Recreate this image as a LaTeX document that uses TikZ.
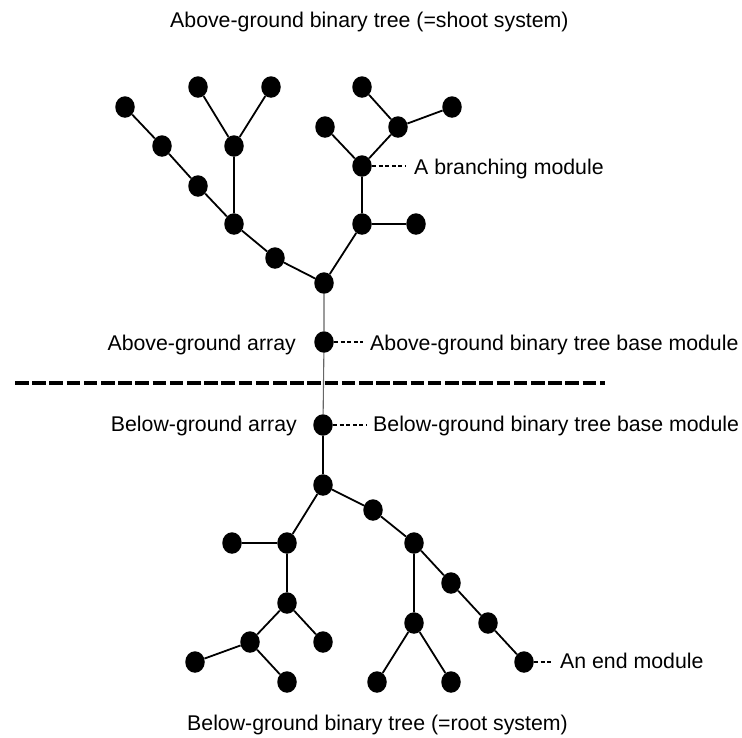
\documentclass[tikz,border=0pt]{standalone}
\usepackage{fontspec}
\setmainfont{Liberation Sans}
\usetikzlibrary{shapes.geometric}
\tikzset{
  mod/.style={ellipse,fill=black,minimum width=19.5pt,minimum height=21.5pt,inner sep=0},
  lab/.style={font=\fontsize{21.3}{25}\selectfont,inner sep=0},
  link/.style={line width=1.8pt},
  stem/.style={line width=1.1pt,black!60},
  lead/.style={line width=2.4pt,dash pattern=on 4pt off 2.6pt},
  ground/.style={line width=3.5pt,dash pattern=on 13.5pt off 3.7pt},
}

\begin{document}
\begin{tikzpicture}[x=1pt,y=-1pt]
    \useasboundingbox (0,0) rectangle (742,737);
    % above-ground tree
    \node(a1)[mod] at (125,107) {};
    \node(a2)[mod] at (162,146) {};
    \node(a3)[mod] at (198,186) {};
    \node(a4)[mod] at (234,224) {};
    \node(a5)[mod] at (198,87) {};
    \node(a6)[mod] at (271,87) {};
    \node(a7)[mod] at (234,146) {};
    \node(a8)[mod] at (275,258) {};
    \node(a9)[mod] at (324,283) {};
    \node(a10)[mod] at (324,342) {};
    \node(a11)[mod] at (362,224) {};
    \node(a12)[mod] at (416,224) {};
    \node(a13)[mod] at (362,166) {};
    \node(a14)[mod] at (325,127) {};
    \node(a15)[mod] at (398,127) {};
    \node(a16)[mod] at (362,87) {};
    \node(a17)[mod] at (452,107) {};

    % below-ground tree
    \node(b1)[mod] at (323,425) {};
    \node(b2)[mod] at (323,485) {};
    \node(b3)[mod] at (287,543) {};
    \node(b4)[mod] at (232,543) {};
    \node(b5)[mod] at (287,603) {};
    \node(b6)[mod] at (250,642) {};
    \node(b7)[mod] at (195,662) {};
    \node(b8)[mod] at (287,682) {};
    \node(b9)[mod] at (323,642) {};
    \node(b10)[mod] at (373,510) {};
    \node(b11)[mod] at (414,543) {};
    \node(b12)[mod] at (414,623) {};
    \node(b13)[mod] at (377,682) {};
    \node(b14)[mod] at (451,682) {};
    \node(b15)[mod] at (451,583) {};
    \node(b16)[mod] at (488,623) {};
    \node(b17)[mod] at (524,662) {};

    \draw[link] (a1)--(a2) (a2)--(a3) (a3)--(a4) (a4)--(a7) (a7)--(a5) (a7)--(a6);
    \draw[link] (a4)--(a8) (a8)--(a9) (a9)--(a11) (a11)--(a12) (a11)--(a13);
    \draw[link] (a13)--(a14) (a13)--(a15) (a15)--(a16) (a15)--(a17);
    \draw[link] (b1)--(b2);
    \draw[link] (b2)--(b3) (b3)--(b4) (b3)--(b5) (b5)--(b6) (b6)--(b7) (b6)--(b8) (b5)--(b9);
    \draw[link] (b2)--(b10) (b10)--(b11) (b11)--(b12) (b12)--(b13) (b12)--(b14);
    \draw[link] (b11)--(b15) (b15)--(b16) (b16)--(b17);

    % ground level
    \coordinate(g1) at (15,383);
    \coordinate(g2) at (605,383);
    \draw[ground] (g1)--(g2);
    \draw[stem] (a9)--(a10) (a10)--(b1);

    % labels
    \node(t1)[lab,anchor=base west] at (170,27) {Above-ground binary tree (=shoot system)};
    \node(t2)[lab,anchor=base west] at (187,730) {Below-ground binary tree (=root system)};
    \node(t3)[lab,anchor=base west] at (414,174) {A branching module};
    \node(t4)[lab,anchor=base east] at (296,350) {Above-ground array};
    \node(t5)[lab,anchor=base west] at (370,350) {Above-ground binary tree base module};
    \node(t6)[lab,anchor=base east] at (297,431) {Below-ground array};
    \node(t7)[lab,anchor=base west] at (373,431) {Below-ground binary tree base module};
    \node(t8)[lab,anchor=base west] at (560,668) {An end module};

    \coordinate(e3) at (406,166);
    \coordinate(e5) at (363,342);
    \coordinate(e7) at (366,425);
    \coordinate(e8) at (551,662);
    \draw[lead] (a13)--(e3);
    \draw[lead] (a10)--(e5);
    \draw[lead] (b1)--(e7);
    \draw[lead] (b17)--(e8);
\end{tikzpicture}
\end{document}
